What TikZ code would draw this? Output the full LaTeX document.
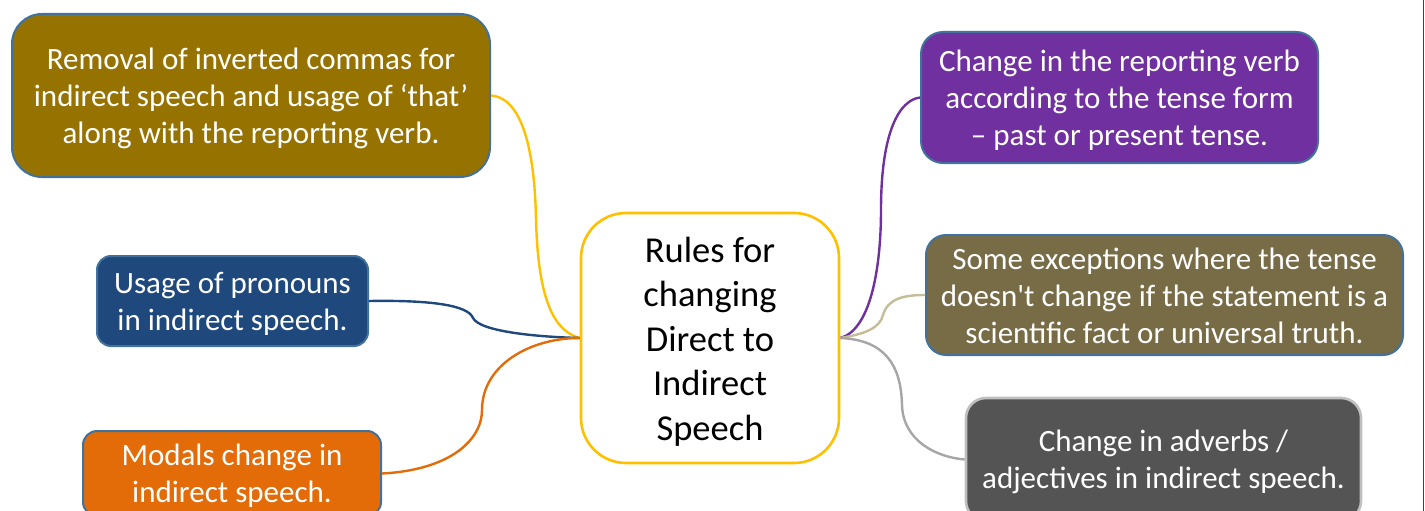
\documentclass[tikz,border=0pt]{standalone}
\usepackage{fontspec}
\setmainfont{Carlito}[Ligatures=TeXOff]
\definecolor{boxborder}{HTML}{41719C}
\definecolor{cA}{HTML}{967300}
\definecolor{cB}{HTML}{1F497D}
\definecolor{cC}{HTML}{E36C09}
\definecolor{cD}{HTML}{7030A0}
\definecolor{cE}{HTML}{786C46}
\definecolor{cF}{HTML}{545454}
\definecolor{cFb}{HTML}{BFBFBF}
\definecolor{gold}{HTML}{FFC000}
\definecolor{tan}{HTML}{C4BD97}
\definecolor{lgray}{HTML}{A6A6A6}
\definecolor{orng}{HTML}{E36C09}
\tikzset{
  leaf/.style={draw=boxborder, line width=2pt, inner sep=0pt},
  ltxt/.style={text=white, align=center, inner sep=0pt, yshift=-3pt,
    font=\fontsize{31}{36.8}\selectfont},
  hub/.style={draw=gold, fill=white, line width=2.6pt, inner sep=0pt, rounded corners=45pt},
  htxt/.style={align=center, inner sep=0pt, yshift=-3.5pt, font=\fontsize{36.5}{44.5}\selectfont},
  link/.style={line width=2.4pt}
}
\begin{document}
\begin{tikzpicture}[x=1pt,y=-1pt]
\useasboundingbox (0,0) rectangle (1425,511);
\node[hub, minimum width=258pt, minimum height=250pt,
  label={[htxt]center:{Rules for\\changing\\Direct to\\Indirect\\Speech}}] (ctr) at (710,338) {};
\node[leaf, fill=cA, rounded corners=30pt, minimum width=478pt, minimum height=163pt,
  label={[ltxt]center:{Removal of inverted commas for\\indirect speech and usage of ‘that’\\along with the reporting verb.}}] (A) at (251,95.5) {};
\node[leaf, fill=cB, rounded corners=14pt, minimum width=271pt, minimum height=90pt,
  label={[ltxt]center:{Usage of pronouns\\in indirect speech.}}] (B) at (232.5,301) {};
\node[leaf, fill=cC, rounded corners=14pt, minimum width=298pt, minimum height=85pt,
  label={[ltxt, yshift=1pt]center:{Modals change in\\indirect speech.}}] (C) at (232,473.5) {};
\node[leaf, fill=cD, rounded corners=22pt, minimum width=397pt, minimum height=131pt,
  label={[ltxt]center:{Change in the reporting verb\\according to the tense form\\– past or present tense.}}] (D) at (1119.5,97.5) {};
\node[leaf, fill=cE, rounded corners=20pt, minimum width=477pt, minimum height=120pt,
  label={[ltxt, yshift=2pt]center:{Some exceptions where the tense\\doesn't change if the statement is a\\scientific fact or universal truth.}}] (E) at (1164.5,295) {};
\node[leaf, draw=cFb, line width=2.6pt, fill=cF, rounded corners=20pt, minimum width=395pt, minimum height=123pt,
  label={[ltxt, yshift=1pt]center:{Change in adverbs /\\adjectives in indirect speech.}}] (F) at (1163.5,459.5) {};
\draw[link, gold] (ctr.west) .. controls (550,330) and (538,290) .. (536,220) .. controls (535,160) and (525,98) .. (A.east);
\draw[link, cB] (B.east) .. controls (430,300) and (468,305) .. (473,318) .. controls (480,332) and (540,337) .. (ctr.west);
\draw[link, orng] (C.east) .. controls (450,470) and (482,440) .. (482,410) .. controls (482,365) and (530,338) .. (ctr.west);
\draw[link, cD] (ctr.east) .. controls (870,330) and (881,270) .. (881,210) .. controls (881,130) and (900,100) .. (D.west);
\draw[link, tan] (ctr.east) .. controls (865,334) and (880,328) .. (883,315) .. controls (888,298) and (905,295) .. (E.west);
\draw[link, lgray] (ctr.east) .. controls (885,340) and (901,365) .. (902,405) .. controls (903,440) and (935,457) .. (F.west);
\draw[line width=1.2pt, black!75] (1423.5,0) -- (1423.5,511);
\end{tikzpicture}
\end{document}
